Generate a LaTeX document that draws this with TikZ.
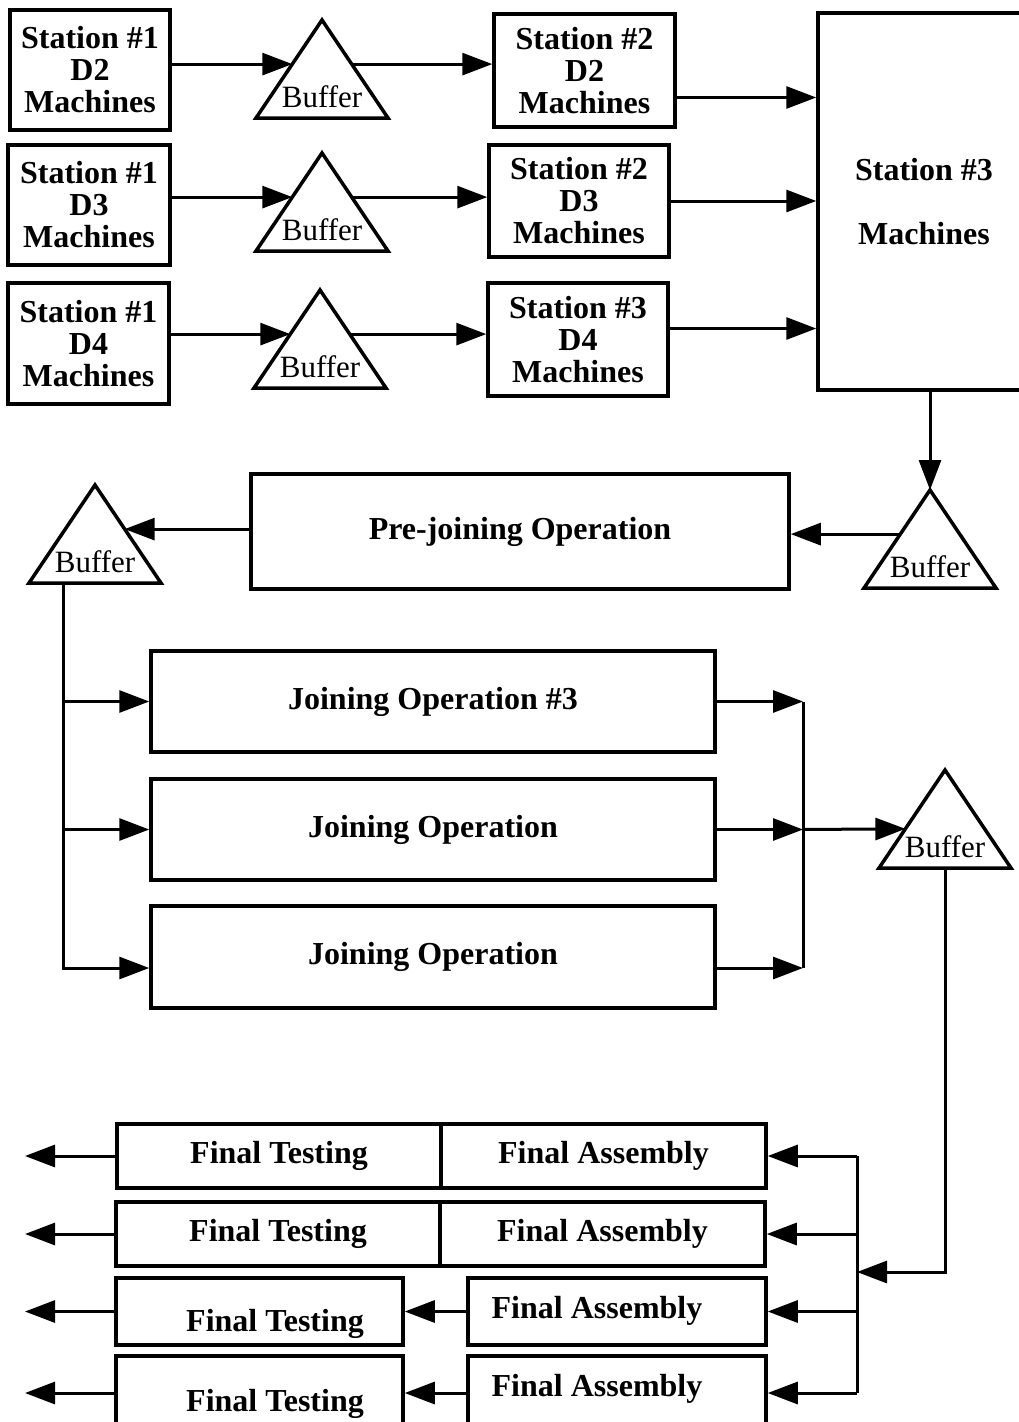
\documentclass[tikz,border=0pt]{standalone}
\usepackage{fontspec}
\setmainfont{Liberation Serif}
\usetikzlibrary{arrows.meta,calc}

\tikzset{
  box/.style = {draw, line width=3.5pt, align=center, inner sep=0pt,
    font=\bfseries\fontsize{32}{32}\selectfont},
  lbl/.style = {inner sep=0pt, font=\bfseries\fontsize{32}{32}\selectfont},
  buftext/.style = {inner sep=0pt, font=\fontsize{31}{32}\selectfont},
  arr/.style = {line width=3pt, -{Triangle[length=30pt,width=22pt]}},
  wire/.style = {line width=3pt},
}

\newcommand{\buffertri}[3]{%
  \coordinate (#1-top) at (#2,#3);
  \coordinate (#1-bl) at (#2-66,#3+98);
  \coordinate (#1-br) at (#2+66,#3+98);
  \draw[line width=3.5pt] (#1-top) -- (#1-bl) -- (#1-br) -- cycle;
  \coordinate (#1-in) at ($(#1-top)!0.45!(#1-bl)$);
  \coordinate (#1-out) at ($(#1-top)!0.45!(#1-br)$);
  \node[buftext] (#1) at (#2,#3+77) {Buffer};
}

\begin{document}
\begin{tikzpicture}[x=1pt,y=-1pt]
  \useasboundingbox (0,0) rectangle (1019,1422);
  \clip (0,0) rectangle (1019,1422);

  \node[box, minimum width=160, minimum height=120] (s1d2) at (90,70) {Station \#1\\D2\\Machines};
  \node[box, minimum width=162, minimum height=120] (s1d3) at (89,205) {Station \#1\\D3\\Machines};
  \node[box, minimum width=161, minimum height=121] (s1d4) at (88.5,343.5) {Station \#1\\D4\\Machines};

  \node[box, minimum width=181, minimum height=113] (s2d2) at (584.5,70.5) {Station \#2\\D2\\Machines};
  \node[box, minimum width=180, minimum height=112] (s2d3) at (579,201) {Station \#2\\D3\\Machines};
  \node[box, minimum width=180, minimum height=113] (s3d4) at (578,339.5) {Station \#3\\D4\\Machines};

  \node[box, minimum width=212, minimum height=377] (s3) at (924,201.5) {Station \#3\\[32pt]Machines};

  \buffertri{b1}{322}{20}
  \buffertri{b2}{322}{153}
  \buffertri{b3}{320}{290}
  \buffertri{b4}{930}{490}
  \buffertri{b5}{95}{485}
  \buffertri{b6}{945}{770}

  \draw[arr] (s1d2.east |- b1-in) -- (b1-in);
  \draw[arr] (s1d3.east |- b2-in) -- (b2-in);
  \draw[arr] (s1d4.east |- b3-in) -- (b3-in);
  \draw[arr] (b1-out) -- (b1-out -| s2d2.west);
  \draw[arr] (b2-out) -- (b2-out -| s2d3.west);
  \draw[arr] (b3-out) -- (b3-out -| s3d4.west);

  \coordinate (r1) at ([yshift=-27pt]s2d2.east);
  \coordinate (r3) at ([yshift=11pt]s3d4.east);
  \draw[arr] (r1) -- (r1 -| s3.west);
  \draw[arr] (s2d3.east) -- (s2d3.east -| s3.west);
  \draw[arr] (r3) -- (r3 -| s3.west);

  \node[box, minimum width=538, minimum height=115] (pre) at (520,531.5) {Pre-joining Operation};

  \draw[arr] (s3.south -| b4-top) -- (b4-top);
  \draw[arr] (b4-in) -- (b4-in -| pre.east);
  \draw[arr] (pre.west |- b5-out) -- (b5-out);

  \node[box, minimum width=564, minimum height=101] (j1) at (433,701.5) {Joining Operation \#3};
  \node[box, minimum width=564, minimum height=101] (j2) at (433,829.5) {Joining Operation};
  \node[box, minimum width=564, minimum height=102] (j3) at (433,957) {Joining Operation};

  \coordinate (b5-foot) at ($(b5-bl)!0.26!(b5-br)$);
  \coordinate (j3a) at ([yshift=-11pt]j3.west);
  \coordinate (j3b) at ([yshift=-11pt]j3.east);
  \draw[arr] (b5-foot) |- (j3a);
  \draw[arr] (b5-foot |- j1.west) -- (j1.west);
  \draw[arr] (b5-foot |- j2.west) -- (j2.west);

  \coordinate (mg) at (803,829.5);
  \draw[arr] (j1.east) -- (j1.east -| mg);
  \draw[arr] (j2.east) -- (mg);
  \draw[arr] (j3b) -- (j3b -| mg);
  \draw[wire] (j1.east -| mg) -- (j3b -| mg);
  \draw[arr] (mg) -- ($(b6-top)!0.6!(b6-bl)$);

  \node[box, minimum width=324, minimum height=64] (ft1) at (279,1156) {Final Testing};
  \node[box, minimum width=325, minimum height=64] (fa1) at (603.5,1156) {Final Assembly};
  \node[box, minimum width=324, minimum height=64] (ft2) at (278,1234) {Final Testing};
  \node[box, minimum width=325, minimum height=64] (fa2) at (602.5,1234) {Final Assembly};
  \node[box, minimum width=287, minimum height=67] (ft3) at (259.5,1311.5) {};
  \node[box, minimum width=298, minimum height=67] (fa3) at (617,1311.5) {};
  \node[box, minimum width=287, minimum height=74] (ft4) at (259.5,1393) {};
  \node[box, minimum width=298, minimum height=74] (fa4) at (617,1393) {};
  \node[lbl] (ft3t) at (275,1324) {Final Testing};
  \node[lbl] (fa3t) at (597,1311) {Final Assembly};
  \node[lbl] (ft4t) at (275,1404) {Final Testing};
  \node[lbl] (fa4t) at (597,1389) {Final Assembly};

  \coordinate (b6-foot) at ($(b6-bl)!0.5!(b6-br)$);
  \coordinate (fork) at (857,1272);
  \coordinate (exit) at (25,0);
  \draw[arr] (b6-foot) |- (fork);
  \draw[wire] (fork |- fa1.east) -- (fork |- fa4.east);
  \foreach \n in {fa1,fa2,fa3,fa4}
    \draw[arr] (fork |- \n.east) -- (\n.east);
  \draw[arr] (fa3.west) -- (fa3.west -| ft3.east);
  \draw[arr] (fa4.west) -- (fa4.west -| ft4.east);
  \foreach \n in {ft1,ft2,ft3,ft4}
    \draw[arr] (\n.west) -- (\n.west -| exit);
\end{tikzpicture}
\end{document}
